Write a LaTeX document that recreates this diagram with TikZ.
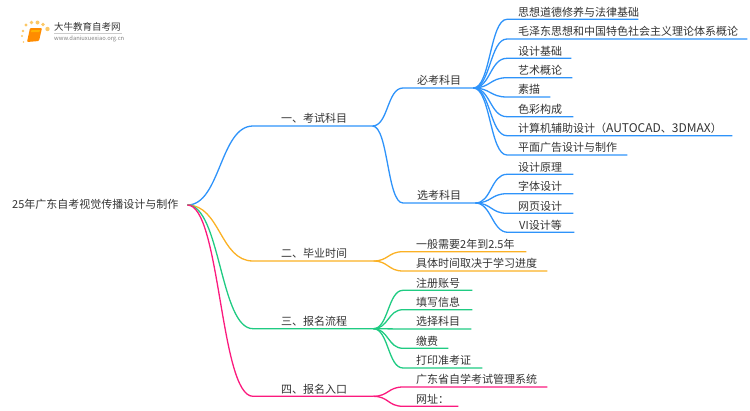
\documentclass[tikz,border=0pt]{standalone}
\usepackage{fontspec}
\setmainfont{Noto Sans CJK SC}
\usepackage{xcolor}
\definecolor{txtgray}{HTML}{333333}
\definecolor{mapblue}{HTML}{2E93FA}
\definecolor{maporange}{HTML}{FBB124}
\definecolor{mapgreen}{HTML}{1FCB82}
\definecolor{mappink}{HTML}{FB1A7E}
\tikzset{
  lab/.style={anchor=south west,inner sep=0pt,text height=9pt,text depth=3pt,text=txtgray,font=\fontsize{11}{13}\selectfont,text width=#1},
  curve/.style={to path={.. controls +(#1,0) and +(-#1,0) .. (\tikztotarget) \tikztonodes}},
  branch/.style={line width=1.3pt,#1},
}
\begin{document}
\begin{tikzpicture}[x=1pt,y=-1pt]
\useasboundingbox (0,0) rectangle (750,410);
% Logo
\foreach \dotx/\doty/\dotr in {26/25/1.6,31.5/22.5/1.9,37.5/22.5/2,43/24.5/1.9,47.5/29/2.2,23/31/1.3,22/36/1.1,23.5/42/0.9}
  \fill[maporange!70!white] (\dotx,\doty) circle (\dotr);
\fill[rounded corners=1pt,orange!90!yellow] (30,28) -- (42,28) -- (39,41) -- (27,42) -- cycle;
\fill[orange!60!yellow] (31.5,30) -- (40,30) -- (39.4,32) -- (31,32) -- cycle;
\node[anchor=west,inner sep=0pt,text=txtgray,font=\fontsize{9.5}{11}\selectfont] (logotitle) at (54,27) {大牛教育自考网};
\node[anchor=west,inner sep=0pt,text=gray,font=\fontsize{5.8}{7}\selectfont] (logourl) at (54,39) {www.daniuxuexiao.org.cn};
\draw[black!20,line width=0.5pt] (54,33.5) -- (122,33.5);
% Root
\node[anchor=west,inner sep=0pt,minimum width=175pt,text height=9pt,text depth=3pt,text=txtgray,text width=175pt,font=\fontsize{11}{13}\selectfont] (root) at (12,205) {25年广东自考视觉传播设计与制作};
% Branch one
\node[lab=91pt] (kaoshi) at (281,126) {一、考试科目};
\node[lab=56pt] (bikao) at (417,88) {必考科目};
\node[lab=58pt] (xuankao) at (417,203) {选考科目};
\node[lab=120pt] (bi1) at (518,19.3) {思想道德修养与法律基础};
\node[lab=229pt] (bi2) at (518,39) {毛泽东思想和中国特色社会主义理论体系概论};
\node[lab=53pt] (bi3) at (518,58.3) {设计基础};
\node[lab=54pt] (bi4) at (518,77.7) {艺术概论};
\node[lab=32pt] (bi5) at (518,97) {素描};
\node[lab=55pt] (bi6) at (518,116.7) {色彩构成};
\node[lab=214pt] (bi7) at (518,135.7) {计算机辅助设计（{\fontsize{12}{13}\selectfont AUTOCAD}、{\fontsize{12}{13}\selectfont 3DMAX}）};
\node[lab=109pt] (bi8) at (518,155) {平面广告设计与制作};
\node[lab=55pt] (xuan1) at (518,174.3) {设计原理};
\node[lab=55pt] (xuan2) at (518,193.7) {字体设计};
\node[lab=55pt] (xuan3) at (518,213.3) {网页设计};
\node[lab=55pt] (xuan4) at (519,232.3) {VI设计等};
\draw[branch=mapblue] (root.east) to[curve=33] ([xshift=-28pt]kaoshi.south west) -- (kaoshi.south east);
\draw[branch=mapblue] (kaoshi.south east) to[curve=16] ([xshift=-14pt]bikao.south west) -- (bikao.south east);
\draw[branch=mapblue] (kaoshi.south east) to[curve=16] ([xshift=-14pt]xuankao.south west) -- (xuankao.south east);
\foreach \i in {1,...,8}
  \draw[branch=mapblue] (bikao.south east) to[curve=17] ([xshift=-11pt]bi\i.south west) -- (bi\i.south east);
\foreach \i in {1,...,4}
  \draw[branch=mapblue] (xuankao.south east) to[curve=16] ([xshift=-11pt]xuan\i.south west) -- (xuan\i.south east);
% Branch two
\node[lab=92pt] (biye) at (281,261) {二、毕业时间};
\node[lab=110pt] (shijian1) at (416,251.7) {一般需要2年到2.5年};
\node[lab=131pt] (shijian2) at (416,271) {具体时间取决于学习进度};
\draw[branch=maporange] (root.east) to[curve=33] ([xshift=-28pt]biye.south west) -- (biye.south east);
\foreach \i in {1,2}
  \draw[branch=maporange] (biye.south east) to[curve=15] ([xshift=-13pt]shijian\i.south west) -- (shijian\i.south east);
% Branch three
\node[lab=92pt] (liucheng) at (281,328.7) {三、报名流程};
\node[lab=56pt] (liu1) at (416,290.3) {注册账号};
\node[lab=56pt] (liu2) at (416,309.7) {填写信息};
\node[lab=55pt] (liu3) at (416,329) {选择科目};
\node[lab=32pt] (liu4) at (416,348.3) {缴费};
\node[lab=66pt] (liu5) at (416,368) {打印准考证};
\draw[branch=mapgreen] (root.east) to[curve=33] ([xshift=-28pt]liucheng.south west) -- (liucheng.south east);
\foreach \i in {1,...,5}
  \draw[branch=mapgreen] (liucheng.south east) to[curve=15] ([xshift=-13pt]liu\i.south west) -- (liu\i.south east);
% Branch four
\node[lab=92pt] (rukou) at (281,396.3) {四、报名入口};
\node[lab=131pt] (ru1) at (416,387) {广东省自学考试管理系统};
\node[lab=42pt] (ru2) at (416,406.3) {网址：};
\draw[branch=mappink] (root.east) to[curve=33] ([xshift=-28pt]rukou.south west) -- (rukou.south east);
\foreach \i in {1,2}
  \draw[branch=mappink] (rukou.south east) to[curve=15] ([xshift=-13pt]ru\i.south west) -- (ru\i.south east);
\end{tikzpicture}
\end{document}
